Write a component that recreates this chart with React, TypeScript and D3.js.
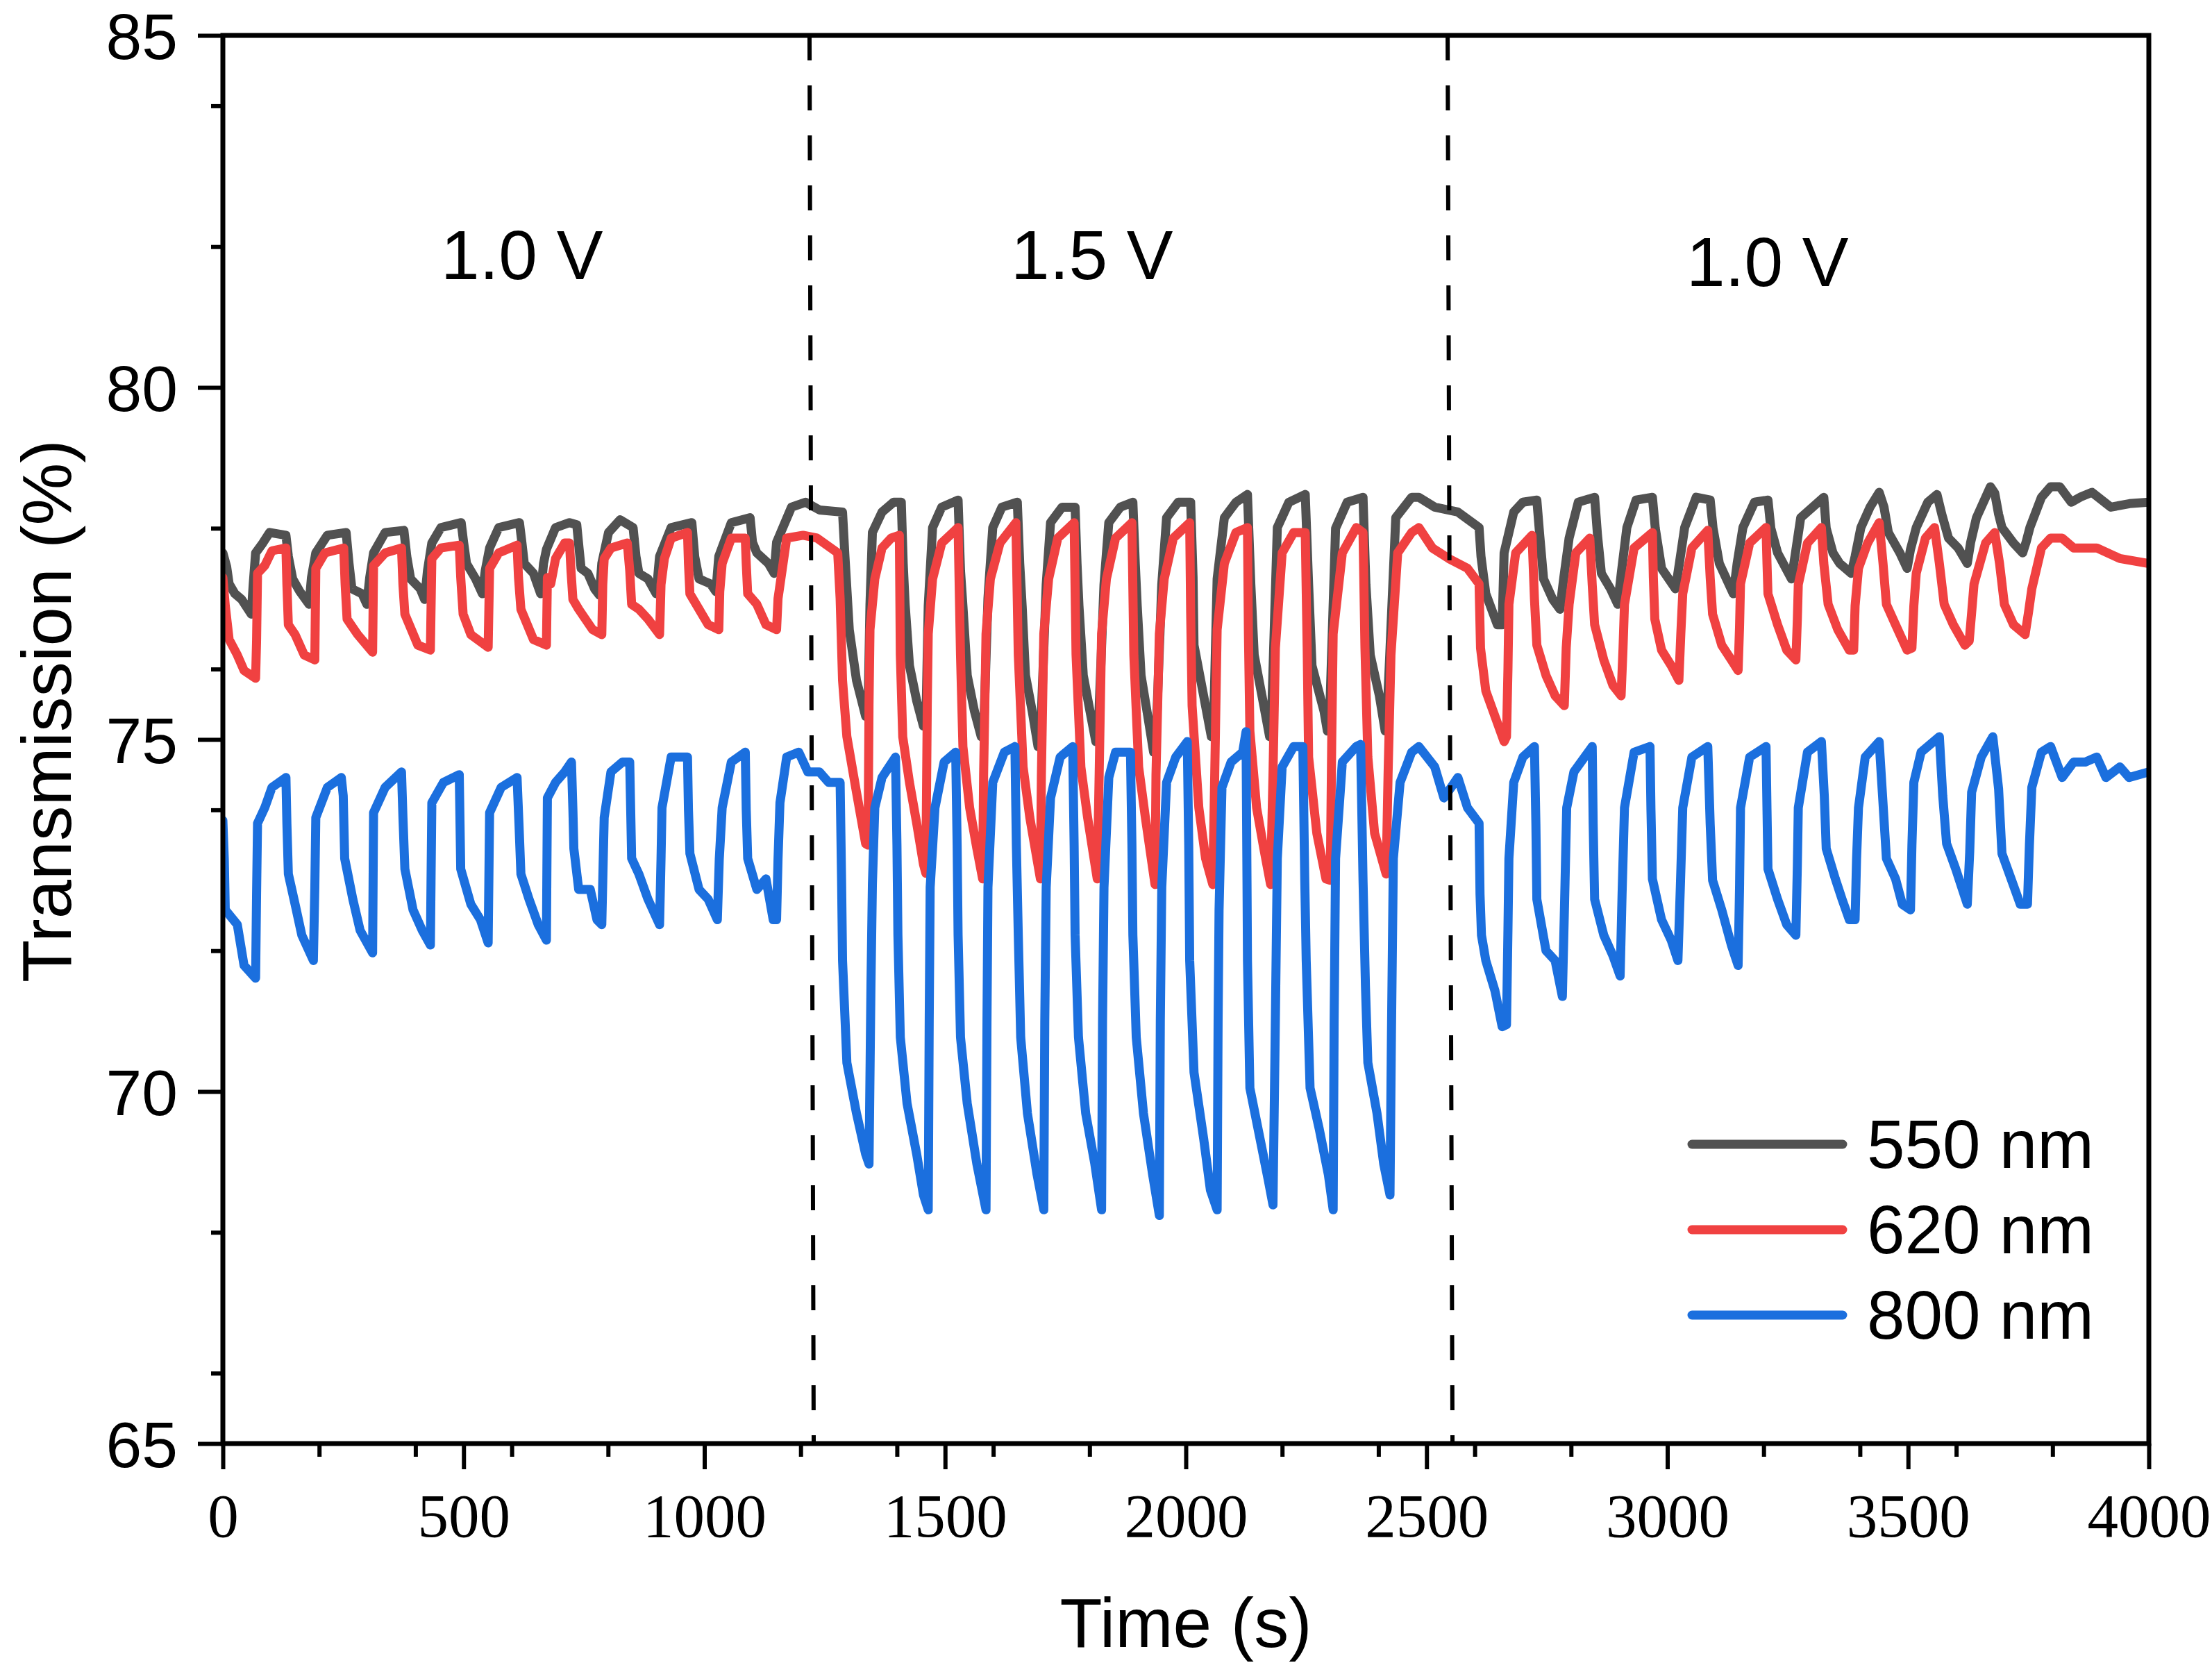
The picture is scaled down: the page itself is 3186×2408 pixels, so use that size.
import React, { useEffect, useRef } from 'react';
import * as d3 from 'd3';

// tick labels / categories
const timeTicks = [0, 500, 1000, 1500, 2000, 2500, 3000, 3500, 4000];
const transTicks = [65, 70, 75, 80, 85];
const seriesNames = ['550 nm', '620 nm', '800 nm'];
const seriesColors = ['#515151', '#f04141', '#1b6fde'];

// voltage steps: label, anchor time (s), anchor level (%)
const phaseLabels = ['1.0 V', '1.5 V', '1.0 V'];
const phaseLabelTime = [621, 1805, 3208];
const phaseLabelLevel = [81.54, 81.54, 81.44];

// dashed dividers between voltage steps (slightly slanted in the original)
const dividerTop = [1218.4, 2543.7];
const dividerBottom = [1227.1, 2553.8];

// [time (s), transmission (%)]
const s550: [number, number][] = [
  [0, 77.65], [8, 77.45], [13, 77.21], [25, 77.07], [39, 76.99], [59, 76.78], [63, 77.2], [68, 77.65], [83, 77.79], [97, 77.94], [131, 77.9],
  [136, 77.6], [145, 77.28], [160, 77.1], [179, 76.92], [184, 77.3], [193, 77.65], [217, 77.9], [256, 77.94], [262, 77.5], [268, 77.14],
  [289, 77.07], [299, 76.92], [305, 77.3], [313, 77.65], [337, 77.94], [376, 77.97], [382, 77.6], [390, 77.28], [410, 77.14], [419, 76.99],
  [425, 77.4], [434, 77.79], [453, 78.01], [495, 78.08], [500, 77.8], [506, 77.5], [525, 77.28], [539, 77.07], [545, 77.4], [554, 77.72],
  [573, 78.01], [616, 78.08], [621, 77.8], [626, 77.5], [645, 77.36], [660, 77.07], [666, 77.5], [672, 77.7], [691, 78.01], [720, 78.08],
  [735, 78.05], [740, 77.7], [744, 77.43], [758, 77.36], [772, 77.14], [782, 77.05], [787, 77.5], [801, 77.94], [825, 78.12], [852, 78.01],
  [858, 77.6], [864, 77.36], [883, 77.28], [900, 77.07], [907, 77.6], [931, 78.01], [974, 78.08], [980, 77.6], [989, 77.28], [1013, 77.21],
  [1024, 77.1], [1030, 77.6], [1056, 78.08], [1095, 78.15], [1100, 77.8], [1109, 77.65], [1133, 77.5], [1145, 77.36], [1150, 77.8],
  [1181, 78.3], [1210, 78.37], [1239, 78.26], [1287, 78.23], [1292, 77.6], [1301, 76.56], [1316, 75.84], [1335, 75.33], [1340, 75.4],
  [1344, 76.92], [1349, 77.94], [1369, 78.23], [1393, 78.37], [1409, 78.37], [1413, 77.5], [1417, 76.92], [1426, 76.05], [1441, 75.55],
  [1455, 75.19], [1460, 75.2], [1465, 76.9], [1474, 78.01], [1493, 78.3], [1527, 78.4], [1532, 77.4], [1537, 76.9], [1546, 75.91],
  [1561, 75.4], [1575, 75.04], [1580, 75.1], [1589, 77.0], [1599, 78.01], [1618, 78.3], [1650, 78.37], [1655, 77.5], [1660, 76.9],
  [1667, 75.91], [1681, 75.4], [1693, 74.9], [1698, 75.0], [1710, 77.2], [1719, 78.08], [1743, 78.3], [1770, 78.3], [1774, 77.5],
  [1778, 76.9], [1787, 75.91], [1801, 75.4], [1813, 74.97], [1818, 75.1], [1830, 77.2], [1840, 78.08], [1864, 78.3], [1890, 78.37],
  [1895, 77.5], [1899, 76.9], [1907, 75.91], [1921, 75.33], [1933, 74.82], [1938, 75.0], [1950, 77.2], [1960, 78.15], [1984, 78.37],
  [2010, 78.37], [2015, 77.3], [2017, 76.34], [2037, 75.62], [2053, 75.04], [2058, 75.3], [2065, 77.28], [2080, 78.15], [2104, 78.37],
  [2128, 78.48], [2135, 77.2], [2142, 76.2], [2162, 75.48], [2174, 75.04], [2178, 75.3], [2190, 78.01], [2214, 78.37], [2248, 78.48],
  [2255, 77.2], [2262, 76.05], [2287, 75.4], [2294, 75.12], [2299, 75.4], [2311, 78.0], [2335, 78.37], [2368, 78.44], [2374, 77.2],
  [2383, 76.2], [2402, 75.62], [2414, 75.12], [2419, 75.5], [2436, 78.15], [2469, 78.44], [2484, 78.44], [2517, 78.3], [2565, 78.23],
  [2609, 78.01], [2613, 77.6], [2623, 77.07], [2647, 76.63], [2657, 76.63], [2661, 77.65], [2681, 78.23], [2700, 78.37], [2729, 78.4],
  [2735, 77.9], [2743, 77.28], [2762, 76.99], [2777, 76.85], [2785, 77.3], [2796, 77.86], [2815, 78.37], [2849, 78.44], [2855, 77.9],
  [2863, 77.36], [2882, 77.14], [2897, 76.92], [2905, 77.4], [2916, 78.01], [2935, 78.4], [2969, 78.44], [2975, 78.0], [2988, 77.43],
  [3017, 77.14], [3025, 77.5], [3036, 78.01], [3060, 78.44], [3089, 78.4], [3095, 78.0], [3108, 77.5], [3137, 77.07], [3145, 77.5],
  [3157, 78.01], [3181, 78.37], [3209, 78.4], [3215, 78.0], [3229, 77.65], [3258, 77.28], [3265, 77.6], [3277, 78.15], [3325, 78.44],
  [3330, 78.0], [3344, 77.65], [3358, 77.5], [3382, 77.36], [3390, 77.6], [3402, 78.01], [3421, 78.3], [3440, 78.51], [3450, 78.3],
  [3459, 77.94], [3483, 77.65], [3498, 77.43], [3505, 77.7], [3517, 78.01], [3541, 78.37], [3560, 78.48], [3570, 78.2], [3584, 77.86],
  [3604, 77.72], [3623, 77.5], [3630, 77.8], [3642, 78.15], [3671, 78.59], [3680, 78.5], [3688, 78.2], [3695, 78.01], [3719, 77.79],
  [3738, 77.65], [3745, 77.8], [3753, 78.01], [3777, 78.44], [3796, 78.59], [3815, 78.59], [3839, 78.37], [3860, 78.45], [3882, 78.51],
  [3921, 78.3], [3960, 78.35], [4000, 78.37],
];

const s620: [number, number][] = [
  [0, 77.3], [5, 76.9], [13, 76.42], [30, 76.2], [44, 75.98], [68, 75.87], [70, 76.4], [72, 77.36], [87, 77.47], [102, 77.68], [131, 77.72],
  [133, 77.2], [136, 76.63], [150, 76.49], [169, 76.2], [191, 76.13], [193, 77.43], [212, 77.65], [251, 77.72], [254, 77.2], [258, 76.71],
  [280, 76.49], [311, 76.24], [313, 77.47], [337, 77.65], [371, 77.72], [374, 77.2], [378, 76.78], [405, 76.34], [431, 76.27], [434, 77.57],
  [453, 77.72], [491, 77.76], [494, 77.3], [499, 76.78], [515, 76.49], [551, 76.31], [554, 77.43], [573, 77.65], [611, 77.76], [614, 77.3],
  [619, 76.85], [645, 76.42], [672, 76.34], [674, 77.3], [681, 77.21], [691, 77.57], [710, 77.79], [720, 77.79], [723, 77.4], [727, 76.99],
  [739, 76.85], [753, 76.71], [768, 76.56], [787, 76.49], [789, 77.2], [792, 77.57], [806, 77.72], [840, 77.79], [845, 77.4], [849, 76.92],
  [864, 76.85], [883, 76.71], [907, 76.49], [910, 77.2], [917, 77.57], [931, 77.86], [965, 77.94], [967, 77.5], [970, 77.07], [989, 76.85],
  [1008, 76.63], [1030, 76.56], [1032, 77.1], [1037, 77.5], [1056, 77.86], [1085, 77.86], [1087, 77.5], [1090, 77.07], [1109, 76.92],
  [1128, 76.63], [1150, 76.56], [1153, 77.0], [1162, 77.43], [1171, 77.86], [1205, 77.9], [1234, 77.86], [1277, 77.65], [1282, 77.0],
  [1287, 75.84], [1296, 75.04], [1316, 74.25], [1335, 73.52], [1340, 73.5], [1342, 75.5], [1344, 76.56], [1354, 77.28], [1369, 77.72],
  [1388, 77.86], [1405, 77.9], [1407, 76.2], [1412, 75.04], [1426, 74.39], [1441, 73.81], [1455, 73.23], [1460, 73.1], [1463, 75.5],
  [1465, 76.5], [1474, 77.28], [1493, 77.79], [1527, 78.01], [1532, 76.2], [1537, 74.9], [1551, 74.03], [1566, 73.45], [1578, 73.02],
  [1580, 74.5], [1585, 76.5], [1594, 77.28], [1614, 77.79], [1647, 78.08], [1652, 76.2], [1662, 74.61], [1676, 73.89], [1698, 73.02],
  [1700, 74.5], [1705, 76.5], [1715, 77.28], [1734, 77.86], [1768, 78.08], [1772, 76.2], [1782, 74.61], [1796, 73.89], [1816, 73.02],
  [1820, 74.5], [1825, 76.5], [1835, 77.28], [1854, 77.86], [1888, 78.08], [1892, 76.2], [1902, 74.61], [1916, 73.89], [1936, 72.94],
  [1938, 74.5], [1945, 76.5], [1955, 77.28], [1974, 77.86], [2008, 78.08], [2010, 76.8], [2013, 75.48], [2027, 74.03], [2041, 73.31],
  [2056, 72.94], [2060, 74.5], [2065, 76.56], [2080, 77.5], [2104, 77.94], [2128, 78.01], [2130, 76.5], [2133, 75.12], [2147, 74.03],
  [2162, 73.45], [2176, 72.94], [2181, 74.5], [2186, 76.3], [2200, 77.65], [2224, 77.94], [2248, 77.94], [2252, 76.3], [2255, 74.75],
  [2272, 73.67], [2291, 73.02], [2300, 73.0], [2303, 75.0], [2306, 76.5], [2325, 77.65], [2354, 78.01], [2368, 77.94], [2372, 76.3],
  [2378, 74.75], [2392, 73.67], [2416, 73.09], [2420, 74.5], [2426, 76.2], [2440, 77.65], [2469, 77.94], [2484, 78.01], [2512, 77.72],
  [2546, 77.57], [2585, 77.43], [2609, 77.21], [2612, 76.3], [2623, 75.69], [2642, 75.33], [2661, 74.97], [2666, 75.04], [2669, 76.0],
  [2671, 76.92], [2685, 77.65], [2719, 77.9], [2724, 77.0], [2729, 76.34], [2748, 75.91], [2767, 75.62], [2786, 75.48], [2790, 76.3],
  [2796, 76.92], [2810, 77.65], [2839, 77.86], [2844, 77.2], [2849, 76.63], [2868, 76.13], [2887, 75.77], [2904, 75.62], [2908, 76.3],
  [2911, 76.92], [2931, 77.72], [2969, 77.94], [2971, 77.3], [2974, 76.71], [2988, 76.27], [3008, 76.05], [3024, 75.84], [3028, 76.5],
  [3032, 77.07], [3051, 77.72], [3084, 77.97], [3089, 77.3], [3094, 76.78], [3113, 76.34], [3133, 76.13], [3147, 75.98], [3150, 76.6],
  [3152, 77.21], [3171, 77.79], [3205, 78.01], [3207, 77.5], [3209, 77.07], [3229, 76.63], [3248, 76.27], [3267, 76.13], [3270, 76.7],
  [3272, 77.2], [3291, 77.79], [3320, 78.01], [3325, 77.5], [3334, 76.92], [3354, 76.56], [3378, 76.27], [3387, 76.27], [3390, 76.9],
  [3397, 77.43], [3416, 77.79], [3440, 78.08], [3448, 77.5], [3455, 76.92], [3474, 76.63], [3498, 76.27], [3508, 76.3], [3512, 76.9],
  [3517, 77.36], [3536, 77.86], [3555, 78.01], [3565, 77.5], [3575, 76.92], [3594, 76.63], [3618, 76.34], [3627, 76.4], [3632, 76.8],
  [3637, 77.21], [3661, 77.79], [3680, 77.94], [3690, 77.5], [3700, 76.92], [3719, 76.63], [3743, 76.49], [3750, 76.8], [3757, 77.14],
  [3777, 77.72], [3796, 77.86], [3820, 77.86], [3844, 77.72], [3892, 77.72], [3940, 77.57], [4000, 77.5],
];

const s800: [number, number][] = [
  [0, 73.85], [3, 73.3], [5, 72.58], [30, 72.37], [44, 71.79], [68, 71.61], [70, 72.8], [72, 73.81], [87, 74.03], [102, 74.32], [131, 74.46],
  [133, 73.8], [136, 73.09], [150, 72.66], [164, 72.22], [188, 71.86], [191, 72.9], [193, 73.89], [217, 74.32], [246, 74.46], [250, 74.2],
  [253, 73.31], [270, 72.73], [285, 72.29], [311, 71.97], [313, 73.96], [337, 74.32], [371, 74.54], [374, 73.9], [378, 73.16], [395, 72.58],
  [414, 72.29], [431, 72.08], [434, 74.1], [458, 74.39], [491, 74.5], [494, 73.16], [515, 72.66], [535, 72.44], [551, 72.11], [554, 73.96],
  [578, 74.32], [611, 74.46], [615, 73.8], [619, 73.09], [636, 72.73], [655, 72.37], [672, 72.15], [674, 74.17], [691, 74.39], [710, 74.54],
  [724, 74.68], [727, 74.0], [729, 73.45], [739, 72.87], [763, 72.87], [777, 72.44], [787, 72.37], [790, 73.3], [792, 73.89], [806, 74.54],
  [830, 74.68], [845, 74.68], [847, 74.0], [849, 73.31], [864, 73.09], [883, 72.73], [907, 72.37], [910, 73.3], [912, 74.03], [931, 74.75],
  [965, 74.75], [967, 74.0], [970, 73.38], [989, 72.87], [1008, 72.73], [1027, 72.44], [1031, 73.3], [1037, 74.03], [1056, 74.68],
  [1085, 74.82], [1087, 74.0], [1090, 73.31], [1109, 72.87], [1128, 73.02], [1143, 72.44], [1150, 72.44], [1153, 73.3], [1157, 74.1],
  [1171, 74.75], [1196, 74.82], [1215, 74.54], [1239, 74.54], [1258, 74.39], [1282, 74.39], [1285, 73.0], [1287, 71.86], [1296, 70.41],
  [1316, 69.69], [1335, 69.11], [1342, 68.97], [1346, 71.5], [1349, 72.94], [1354, 74.03], [1369, 74.46], [1397, 74.75], [1400, 73.5],
  [1402, 72.22], [1407, 70.77], [1421, 69.83], [1441, 69.11], [1455, 68.53], [1465, 68.32], [1467, 71.0], [1469, 72.9], [1479, 74.03],
  [1498, 74.68], [1522, 74.82], [1525, 73.5], [1527, 72.22], [1532, 70.77], [1546, 69.83], [1566, 68.97], [1585, 68.32], [1587, 71.0],
  [1589, 72.9], [1599, 74.39], [1623, 74.82], [1645, 74.9], [1648, 73.5], [1652, 72.22], [1657, 70.77], [1671, 69.69], [1691, 68.82],
  [1705, 68.32], [1707, 71.0], [1710, 72.9], [1719, 74.17], [1739, 74.75], [1765, 74.9], [1768, 73.5], [1770, 72.22], [1777, 70.77],
  [1792, 69.69], [1811, 68.97], [1825, 68.32], [1827, 71.0], [1830, 72.9], [1840, 74.46], [1854, 74.82], [1885, 74.82], [1888, 73.5],
  [1890, 72.22], [1897, 70.77], [1912, 69.69], [1931, 68.82], [1945, 68.24], [1947, 71.0], [1950, 72.9], [1960, 74.39], [1979, 74.75],
  [2003, 74.97], [2006, 73.5], [2008, 71.86], [2017, 70.27], [2037, 69.33], [2051, 68.6], [2065, 68.32], [2067, 71.0], [2069, 72.58],
  [2075, 74.32], [2094, 74.68], [2118, 74.82], [2125, 75.11], [2127, 73.0], [2128, 71.86], [2133, 70.05], [2152, 69.4], [2171, 68.75],
  [2181, 68.39], [2185, 70.5], [2190, 73.31], [2200, 74.61], [2224, 74.9], [2243, 74.9], [2247, 73.0], [2250, 71.86], [2258, 70.05],
  [2277, 69.47], [2296, 68.82], [2306, 68.32], [2308, 71.0], [2311, 73.31], [2325, 74.68], [2354, 74.9], [2363, 74.93], [2368, 73.0],
  [2373, 71.5], [2378, 70.41], [2397, 69.69], [2411, 68.97], [2424, 68.53], [2427, 70.8], [2431, 73.31], [2445, 74.39], [2469, 74.82],
  [2484, 74.9], [2517, 74.61], [2536, 74.17], [2565, 74.46], [2585, 74.03], [2609, 73.81], [2611, 72.8], [2614, 72.22], [2623, 71.86],
  [2642, 71.43], [2657, 70.92], [2666, 70.95], [2669, 72.3], [2671, 73.31], [2681, 74.39], [2700, 74.75], [2724, 74.9], [2727, 73.8],
  [2729, 72.73], [2748, 72.0], [2767, 71.86], [2782, 71.35], [2786, 72.5], [2791, 74.03], [2806, 74.54], [2844, 74.9], [2846, 73.8],
  [2849, 72.73], [2868, 72.22], [2887, 71.93], [2902, 71.64], [2906, 72.8], [2911, 74.03], [2931, 74.82], [2964, 74.9], [2966, 74.0],
  [2969, 73.02], [2988, 72.44], [3008, 72.15], [3022, 71.86], [3027, 72.9], [3032, 74.03], [3051, 74.75], [3084, 74.9], [3089, 73.8],
  [3094, 73.0], [3113, 72.58], [3133, 72.08], [3147, 71.79], [3150, 72.9], [3152, 74.03], [3171, 74.75], [3205, 74.9], [3207, 74.0],
  [3209, 73.16], [3229, 72.73], [3248, 72.37], [3267, 72.22], [3270, 73.2], [3272, 74.03], [3291, 74.82], [3320, 74.97], [3326, 74.2],
  [3330, 73.45], [3349, 73.02], [3363, 72.73], [3378, 72.44], [3390, 72.44], [3393, 73.3], [3397, 74.03], [3411, 74.75], [3440, 74.97],
  [3447, 74.2], [3455, 73.31], [3474, 73.02], [3488, 72.66], [3505, 72.58], [3508, 73.5], [3512, 74.39], [3527, 74.82], [3565, 75.04],
  [3572, 74.2], [3580, 73.52], [3599, 73.16], [3623, 72.66], [3628, 73.4], [3632, 74.25], [3652, 74.75], [3676, 75.04], [3688, 74.3],
  [3695, 73.38], [3714, 73.02], [3733, 72.66], [3748, 72.66], [3752, 73.5], [3757, 74.32], [3777, 74.82], [3796, 74.9], [3820, 74.46],
  [3844, 74.68], [3868, 74.68], [3892, 74.75], [3911, 74.46], [3940, 74.61], [3959, 74.46], [4000, 74.54],
];

const W = 3186;
const H = 2408;
const margin = { top: 51, right: 91, bottom: 329, left: 321 };
const SANS = '"Liberation Sans", Arial, sans-serif';
const SERIF = '"Liberation Serif", "Times New Roman", serif';

const App = () => {
  const ref = useRef<SVGSVGElement | null>(null);

  useEffect(() => {
    if (!ref.current) return;
    const svg = d3.select(ref.current);
    svg.selectAll('*').remove();

    const x = d3.scaleLinear().domain([0, 4000]).range([margin.left, W - margin.right]);
    const y = d3.scaleLinear().domain([65, 85]).range([H - margin.bottom, margin.top]);

    svg.append('rect').attr('width', W).attr('height', H).attr('fill', '#fff');

    svg.append('defs').append('clipPath').attr('id', 'plot-clip')
      .append('rect')
      .attr('x', margin.left).attr('y', margin.top)
      .attr('width', x(4000) - x(0)).attr('height', y(65) - y(85));

    // x axis: major ticks with serif labels, then minor ticks
    const xMajor = svg.append('g')
      .attr('transform', `translate(0,${y(65)})`)
      .call(d3.axisBottom(x).tickValues(timeTicks).tickSize(37).tickPadding(34).tickSizeOuter(0).tickFormat(d3.format('d')));
    xMajor.select('.domain').remove();
    xMajor.selectAll('line').attr('stroke', '#000').attr('stroke-width', 6);
    xMajor.selectAll('text').attr('font-family', SERIF).attr('font-size', 89).attr('fill', '#000');

    const xMinor = svg.append('g')
      .attr('transform', `translate(0,${y(65)})`)
      .call(d3.axisBottom(x).tickValues(x.ticks(16).filter((d) => d % 500 !== 0)).tickSize(19).tickSizeOuter(0).tickFormat(() => ''));
    xMinor.select('.domain').remove();
    xMinor.selectAll('line').attr('stroke', '#000').attr('stroke-width', 6);

    // y axis
    const yMajor = svg.append('g')
      .attr('transform', `translate(${x(0)},0)`)
      .call(d3.axisLeft(y).tickValues(transTicks).tickSize(36).tickPadding(29).tickSizeOuter(0));
    yMajor.select('.domain').remove();
    yMajor.selectAll('line').attr('stroke', '#000').attr('stroke-width', 6);
    yMajor.selectAll('text')
      .attr('font-family', SANS)
      .attr('font-size', 93)
      .attr('fill', '#000')
      .attr('dy', '0.36em');

    const yMinor = svg.append('g')
      .attr('transform', `translate(${x(0)},0)`)
      .call(d3.axisLeft(y).tickValues(y.ticks(8).filter((d) => d % 5 !== 0)).tickSize(17).tickSizeOuter(0).tickFormat(() => ''));
    yMinor.select('.domain').remove();
    yMinor.selectAll('line').attr('stroke', '#000').attr('stroke-width', 6);

    // series
    const line = d3.line<[number, number]>()
      .x((d) => x(d[0]))
      .y((d) => y(d[1]));

    const plot = svg.append('g').attr('clip-path', 'url(#plot-clip)');
    [s550, s620, s800].forEach((s, i) => {
      plot.append('path')
        .datum(s)
        .attr('d', line)
        .attr('fill', 'none')
        .attr('stroke', seriesColors[i])
        .attr('stroke-width', 13)
        .attr('stroke-linejoin', 'round')
        .attr('stroke-linecap', 'round');
    });

    // dashed dividers
    svg.append('g')
      .selectAll('line')
      .data(dividerTop)
      .enter()
      .append('line')
      .attr('x1', (d) => x(d))
      .attr('y1', y(85))
      .attr('x2', (d, i) => x(dividerBottom[i]))
      .attr('y2', y(65))
      .attr('stroke', '#000')
      .attr('stroke-width', 6)
      .attr('stroke-dasharray', '36,36');

    // voltage labels
    svg.append('g')
      .selectAll('text')
      .data(phaseLabels)
      .enter()
      .append('text')
      .attr('x', (d, i) => x(phaseLabelTime[i]))
      .attr('y', (d, i) => y(phaseLabelLevel[i]))
      .attr('text-anchor', 'middle')
      .attr('font-family', SANS)
      .attr('font-size', 100)
      .attr('fill', '#000')
      .text((d) => d);

    // legend
    const legend = svg.append('g');
    seriesNames.forEach((name, i) => {
      const ly = 1648 + i * 123;
      legend.append('line')
        .attr('x1', 2437).attr('x2', 2654)
        .attr('y1', ly).attr('y2', ly)
        .attr('stroke', seriesColors[i])
        .attr('stroke-width', 13)
        .attr('stroke-linecap', 'round');
      legend.append('text')
        .attr('x', 2689)
        .attr('y', ly + 34)
        .attr('font-family', SANS)
        .attr('font-size', 98)
        .attr('fill', '#000')
        .text(name);
    });

    // frame
    svg.append('rect')
      .attr('x', x(0)).attr('y', y(85))
      .attr('width', x(4000) - x(0)).attr('height', y(65) - y(85))
      .attr('fill', 'none')
      .attr('stroke', '#000')
      .attr('stroke-width', 7);

    // axis titles
    svg.append('text')
      .attr('x', (x(0) + x(4000)) / 2)
      .attr('y', 2372)
      .attr('text-anchor', 'middle')
      .attr('font-family', SANS)
      .attr('font-size', 100)
      .attr('fill', '#000')
      .text('Time (s)');

    svg.append('text')
      .attr('transform', `translate(102,1024) rotate(-90)`)
      .attr('text-anchor', 'middle')
      .attr('font-family', SANS)
      .attr('font-size', 101)
      .attr('fill', '#000')
      .text('Transmission (%)');
  }, []);

  return (
    <svg
      ref={ref}
      width={W}
      height={H}
      style={{ position: 'absolute', left: 0, top: 0, display: 'block' }}
    />
  );
};

export default App;
